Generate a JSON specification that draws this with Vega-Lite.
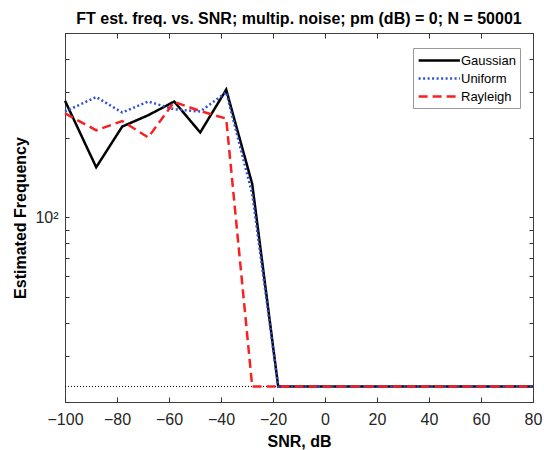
{
  "$schema": "https://vega.github.io/schema/vega-lite/v6.json",
  "width": 468,
  "height": 369,
  "autosize": {"type": "none"},
  "padding": {"left": 65, "top": 33, "right": 11, "bottom": 48},
  "background": "white",
  "title": {
    "text": "FT est. freq. vs. SNR; multip. noise; pm (dB) = 0; N = 50001",
    "font": "Liberation Sans",
    "fontSize": 16,
    "fontWeight": "bold",
    "color": "#000000",
    "offset": -2,
    "anchor": "middle"
  },
  "config": {
    "view": {"stroke": "#404040", "strokeWidth": 1},
    "axis": {
      "domain": false,
      "grid": false,
      "labelFont": "Liberation Sans",
      "labelFontSize": 16,
      "labelColor": "#262626",
      "titleFont": "Liberation Sans",
      "titleFontSize": 16,
      "titleFontWeight": "bold",
      "titleColor": "#000000",
      "labelFlush": false,
      "labelOverlap": false
    }
  },
  "datasets": {
    "ref": [
      {"snr": -100, "freq": 22.9},
      {"snr": 80, "freq": 22.9}
    ],
    "est": [
      {"noise": "Gaussian", "snr": -100, "freq": 277},
      {"noise": "Gaussian", "snr": -88, "freq": 155},
      {"noise": "Gaussian", "snr": -78, "freq": 221},
      {"noise": "Gaussian", "snr": -68, "freq": 244},
      {"noise": "Gaussian", "snr": -58, "freq": 275},
      {"noise": "Gaussian", "snr": -48, "freq": 210},
      {"noise": "Gaussian", "snr": -38, "freq": 305},
      {"noise": "Gaussian", "snr": -28, "freq": 134},
      {"noise": "Gaussian", "snr": -18, "freq": 22.9},
      {"noise": "Gaussian", "snr": -8, "freq": 22.9},
      {"noise": "Gaussian", "snr": 2, "freq": 22.9},
      {"noise": "Gaussian", "snr": 12, "freq": 22.9},
      {"noise": "Gaussian", "snr": 22, "freq": 22.9},
      {"noise": "Gaussian", "snr": 32, "freq": 22.9},
      {"noise": "Gaussian", "snr": 42, "freq": 22.9},
      {"noise": "Gaussian", "snr": 52, "freq": 22.9},
      {"noise": "Gaussian", "snr": 62, "freq": 22.9},
      {"noise": "Gaussian", "snr": 72, "freq": 22.9},
      {"noise": "Gaussian", "snr": 80, "freq": 22.9},
      {"noise": "Uniform", "snr": -100, "freq": 252},
      {"noise": "Uniform", "snr": -88, "freq": 286},
      {"noise": "Uniform", "snr": -78, "freq": 250},
      {"noise": "Uniform", "snr": -68, "freq": 275},
      {"noise": "Uniform", "snr": -58, "freq": 257},
      {"noise": "Uniform", "snr": -48, "freq": 252},
      {"noise": "Uniform", "snr": -38, "freq": 298},
      {"noise": "Uniform", "snr": -28, "freq": 123},
      {"noise": "Uniform", "snr": -18, "freq": 22.9},
      {"noise": "Uniform", "snr": -8, "freq": 22.9},
      {"noise": "Uniform", "snr": 2, "freq": 22.9},
      {"noise": "Uniform", "snr": 12, "freq": 22.9},
      {"noise": "Uniform", "snr": 22, "freq": 22.9},
      {"noise": "Uniform", "snr": 32, "freq": 22.9},
      {"noise": "Uniform", "snr": 42, "freq": 22.9},
      {"noise": "Uniform", "snr": 52, "freq": 22.9},
      {"noise": "Uniform", "snr": 62, "freq": 22.9},
      {"noise": "Uniform", "snr": 72, "freq": 22.9},
      {"noise": "Uniform", "snr": 80, "freq": 22.9},
      {"noise": "Rayleigh", "snr": -100, "freq": 248},
      {"noise": "Rayleigh", "snr": -88, "freq": 214},
      {"noise": "Rayleigh", "snr": -78, "freq": 232},
      {"noise": "Rayleigh", "snr": -68, "freq": 201},
      {"noise": "Rayleigh", "snr": -58, "freq": 274},
      {"noise": "Rayleigh", "snr": -48, "freq": 253},
      {"noise": "Rayleigh", "snr": -38, "freq": 237},
      {"noise": "Rayleigh", "snr": -28, "freq": 22.9},
      {"noise": "Rayleigh", "snr": -18, "freq": 22.9},
      {"noise": "Rayleigh", "snr": -8, "freq": 22.9},
      {"noise": "Rayleigh", "snr": 2, "freq": 22.9},
      {"noise": "Rayleigh", "snr": 12, "freq": 22.9},
      {"noise": "Rayleigh", "snr": 22, "freq": 22.9},
      {"noise": "Rayleigh", "snr": 32, "freq": 22.9},
      {"noise": "Rayleigh", "snr": 42, "freq": 22.9},
      {"noise": "Rayleigh", "snr": 52, "freq": 22.9},
      {"noise": "Rayleigh", "snr": 62, "freq": 22.9},
      {"noise": "Rayleigh", "snr": 72, "freq": 22.9},
      {"noise": "Rayleigh", "snr": 80, "freq": 22.9}
    ]
  },
  "layer": [
    {
      "data": {"name": "ref"},
      "mark": {"type": "line", "color": "#000000", "strokeWidth": 1, "strokeDash": [1, 2]},
      "encoding": {
        "x": {
          "field": "snr", "type": "quantitative",
          "scale": {"domain": [-100, 80], "nice": false, "zero": false},
          "axis": {
            "orient": "bottom",
            "values": [-100, -80, -60, -40, -20, 0, 20, 40, 60, 80],
            "title": "SNR, dB",
            "ticks": true,
            "tickColor": "#333333",
            "tickWidth": 1,
            "offset": -5,
            "tickSize": 5,
            "labelPadding": 9,
            "titlePadding": 6
          }
        },
        "y": {
          "field": "freq", "type": "quantitative",
          "scale": {"type": "log", "domain": [20, 500], "nice": false},
          "axis": {
            "orient": "left",
            "values": [20, 30, 40, 50, 60, 70, 80, 90, 100, 200, 300, 400, 500],
            "labelExpr": "datum.value == 100 ? '10²' : ''",
            "ticks": true,
            "tickColor": "#333333",
            "tickWidth": 1,
            "offset": -4,
            "tickSize": 4,
            "labelPadding": 7,
            "title": "Estimated Frequency",
            "titlePadding": 6
          }
        }
      }
    },
    {
      "data": {"name": "est"},
      "mark": {"type": "line", "strokeWidth": 2.5},
      "encoding": {
        "x": {
          "field": "snr", "type": "quantitative",
          "axis": {
            "orient": "top",
            "values": [-100, -80, -60, -40, -20, 0, 20, 40, 60, 80],
            "labels": false,
            "title": null,
            "ticks": true,
            "tickColor": "#333333",
            "tickWidth": 1,
            "offset": -5,
            "tickSize": 5
          }
        },
        "y": {
          "field": "freq", "type": "quantitative",
          "axis": {
            "orient": "right",
            "values": [20, 30, 40, 50, 60, 70, 80, 90, 100, 200, 300, 400, 500],
            "labels": false,
            "title": null,
            "ticks": true,
            "tickColor": "#333333",
            "tickWidth": 1,
            "offset": -4,
            "tickSize": 4
          }
        },
        "color": {
          "field": "noise", "type": "nominal",
          "scale": {"domain": ["Gaussian", "Uniform", "Rayleigh"], "range": ["#000000", "#2f4fd0", "#f82020"]},
          "legend": {
            "title": null,
            "orient": "none",
            "legendX": 348,
            "legendY": 15,
            "symbolType": "M-1,0H5",
            "symbolSize": 190,
            "symbolStrokeWidth": 2.5,
            "labelFont": "Liberation Sans",
            "labelFontSize": 13,
            "labelColor": "#000000",
            "labelOffset": 27,
            "fillColor": "white",
            "strokeColor": "#999999",
            "padding": 4,
            "rowPadding": 2
          }
        },
        "strokeDash": {
          "field": "noise", "type": "nominal",
          "scale": {"domain": ["Gaussian", "Uniform", "Rayleigh"], "range": [[1, 0], [2, 2.5], [9, 5]]},
          "legend": {
            "title": null,
            "orient": "none",
            "legendX": 348,
            "legendY": 15,
            "symbolType": "M-1,0H5",
            "symbolSize": 190,
            "symbolStrokeWidth": 2.5,
            "labelFont": "Liberation Sans",
            "labelFontSize": 13,
            "labelColor": "#000000",
            "labelOffset": 27,
            "fillColor": "white",
            "strokeColor": "#999999",
            "padding": 4,
            "rowPadding": 2
          }
        }
      }
    }
  ],
  "resolve": {"axis": {"x": "independent", "y": "independent"}}
}
